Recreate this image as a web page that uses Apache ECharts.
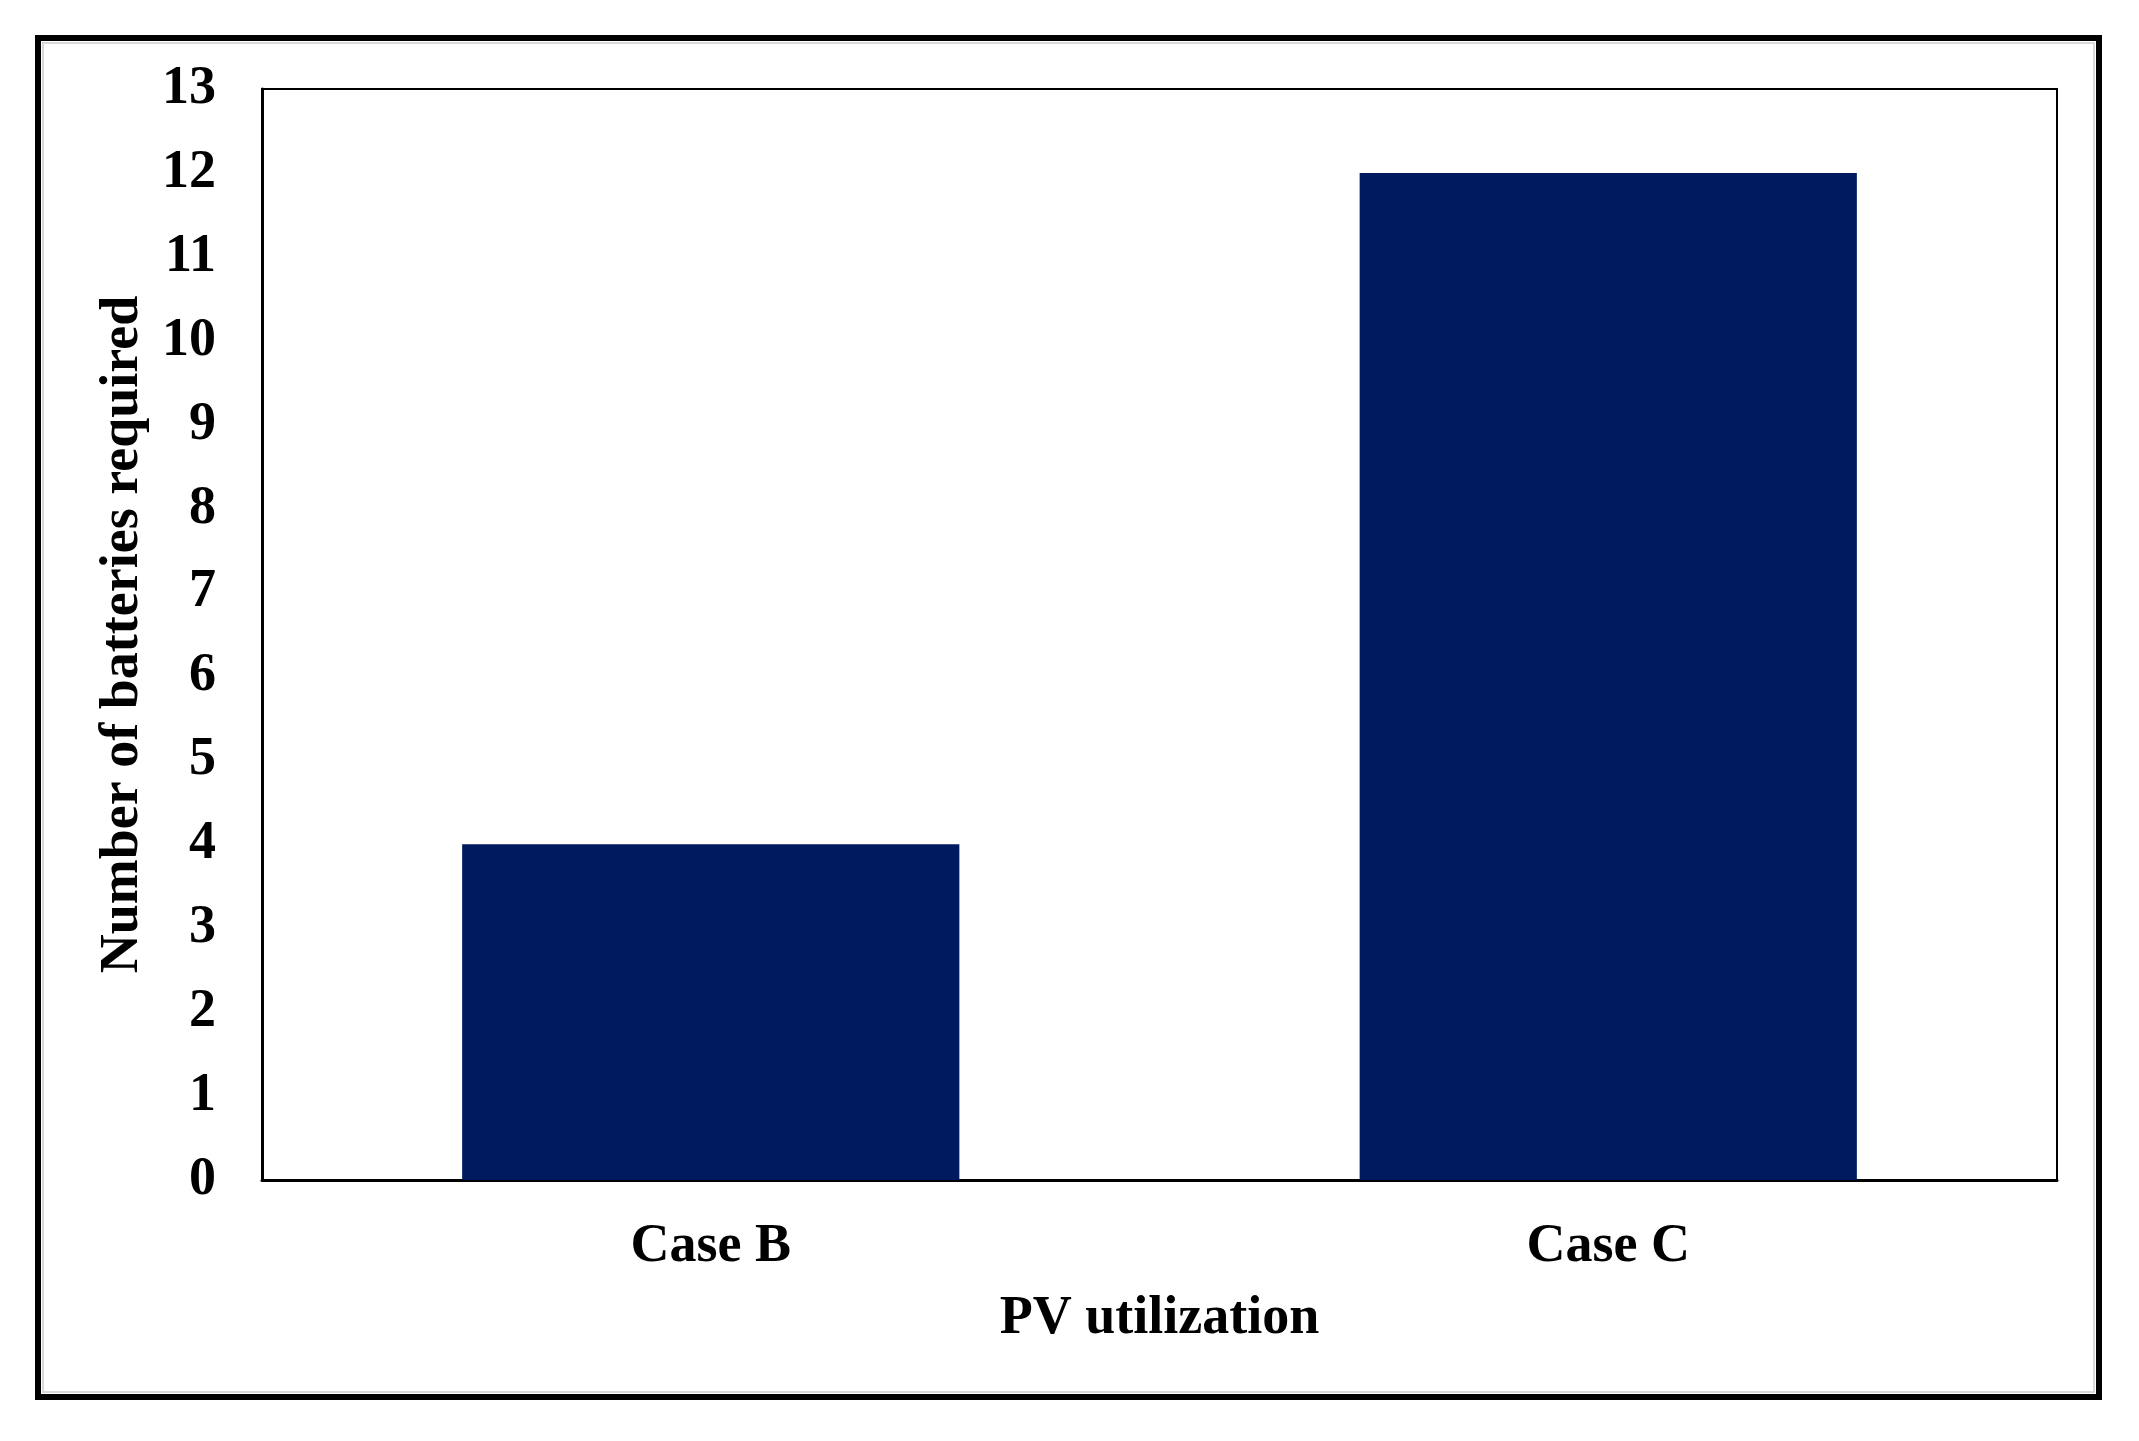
<!DOCTYPE html>
<html>
<head>
<meta charset="utf-8">
<title>Number of batteries required</title>
<script src="https://cdn.jsdelivr.net/npm/echarts@6/dist/echarts.min.js"></script>
<style>
  html, body { margin: 0; padding: 0; background: #fff; }
  #myChart { width: 2139px; height: 1441px; }
</style>
</head>
<body>
<div id="myChart"></div>
<script>
var categories = ['Case B', 'Case C'];
var batteries = [4, 12];
var yTicks = [0, 1, 2, 3, 4, 5, 6, 7, 8, 9, 10, 11, 12, 13];

var fontFamily = "'Liberation Serif', 'Times New Roman', serif";

var myChart = echarts.init(document.getElementById('myChart'));

var option = {
    backgroundColor: '#fff',
    animation: false,
    graphic: [
        {   // outer frame
            type: 'rect',
            shape: {x: 38, y: 38, width: 2061, height: 1359},
            style: {fill: 'none', stroke: '#000', lineWidth: 6}
        },
        {   // faint shadow inside the frame
            type: 'rect',
            shape: {x: 43, y: 43, width: 2051, height: 1349},
            style: {fill: 'none', stroke: '#d8d8d8', lineWidth: 2}
        }
    ],
    grid: {
        left: 262,
        right: 82,
        top: 89,
        bottom: 261,
        show: true,
        borderColor: '#000',
        borderWidth: 2,
        backgroundColor: 'transparent'
    },
    xAxis: {
        type: 'category',
        data: categories,
        name: 'PV utilization',
        nameLocation: 'middle',
        nameGap: 112,
        nameTextStyle: {fontFamily: fontFamily, fontWeight: 'bold', fontSize: 54, color: '#000'},
        axisLine: {show: true, lineStyle: {color: '#000', width: 3}},
        axisTick: {show: false},
        axisLabel: {margin: 40, fontFamily: fontFamily, fontWeight: 'bold', fontSize: 54, color: '#000'},
        splitLine: {show: false}
    },
    yAxis: {
        type: 'value',
        min: yTicks[0],
        max: yTicks[yTicks.length - 1],
        interval: 1,
        name: 'Number of batteries required',
        nameLocation: 'middle',
        nameGap: 112,
        nameTextStyle: {fontFamily: fontFamily, fontWeight: 'bold', fontSize: 54, color: '#000'},
        axisLine: {show: true, lineStyle: {color: '#000', width: 3}},
        axisTick: {show: false},
        axisLabel: {margin: 46, fontFamily: fontFamily, fontWeight: 'bold', fontSize: 54, color: '#000'},
        splitLine: {show: false}
    },
    series: [{
        type: 'bar',
        data: batteries,
        barCategoryGap: '44.6%',
        itemStyle: {color: '#001a5f'}
    }]
};

myChart.setOption(option);
</script>
</body>
</html>
